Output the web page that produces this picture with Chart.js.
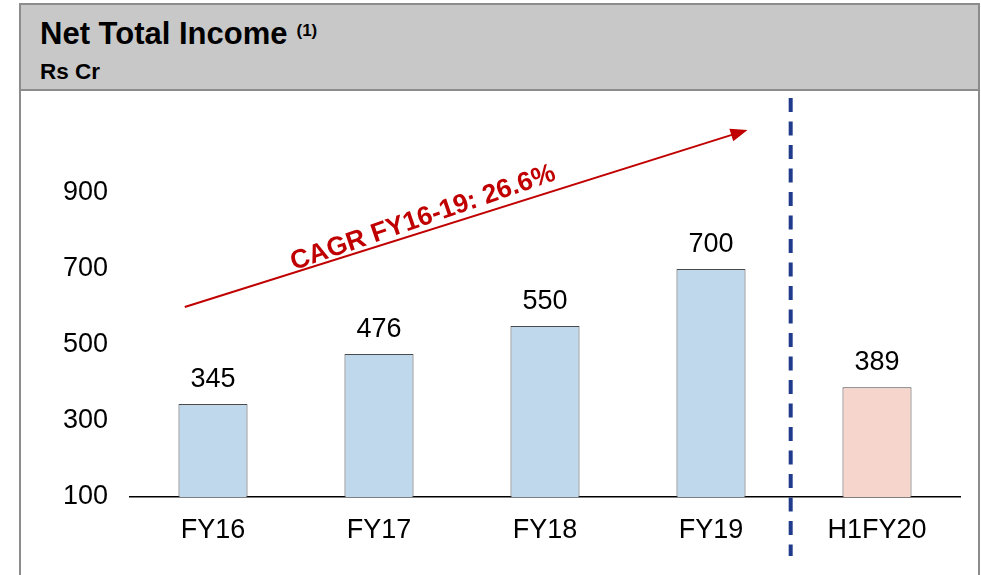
<!DOCTYPE html>
<html>
<head>
<meta charset="utf-8">
<script src="https://cdn.jsdelivr.net/npm/chart.js@4.4.1/dist/chart.umd.min.js"></script>
<style>
body { margin:0; width:981px; height:575px; background:#fff; position:relative; overflow:hidden; font-family:'Liberation Sans', Arial, sans-serif; }
#panel { position:absolute; left:19px; top:3px; width:961px; height:574px; box-sizing:border-box; border:2px solid #8c8c8c; border-bottom-color:#dcdcdc; }
#head { position:absolute; left:21px; top:5px; width:957px; height:84px; background:#c8c8c8; border-bottom:2px solid #8c8c8c; }
#title { position:absolute; left:40px; top:18px; font-size:31px; line-height:31px; font-weight:bold; color:#000; white-space:nowrap; }
#title sup { font-size:17px; vertical-align:top; position:relative; top:-3px; margin-left:9px; }
#unit { position:absolute; left:40px; top:61px; font-size:22.5px; line-height:21px; font-weight:bold; color:#000; }
#chart_income { position:absolute; left:21px; top:91px; }
</style>
</head>
<body>
<div id="panel"></div>
<div id="head"></div>
<div id="title">Net Total Income<sup>(1)</sup></div>
<div id="unit">Rs Cr</div>
<canvas id="chart_income" width="956" height="483"></canvas>
<script>
var categories = ['FY16', 'FY17', 'FY18', 'FY19', 'H1FY20'];
var income = [345, 476, 550, 700, 389];
var barColors = ['#bfd8eb', '#bfd8eb', '#bfd8eb', '#bfd8eb', '#f6d5cc'];
var yTicks = [100, 300, 500, 700, 900];
var cagrText = 'CAGR FY16-19: 26.6%';

var fontFamily = "'Liberation Sans', Arial, sans-serif";

// value labels on top of bars
var barLabels = {
    id: 'barLabels',
    afterDatasetsDraw: function(chart) {
        var ctx = chart.ctx;
        var meta = chart.getDatasetMeta(0);
        ctx.save();
        ctx.font = '27px ' + fontFamily;
        ctx.fillStyle = '#000';
        ctx.textAlign = 'center';
        ctx.textBaseline = 'alphabetic';
        meta.data.forEach(function(bar, i) {
            ctx.fillText(income[i], bar.x, bar.y - 17);
        });
        ctx.restore();
    }
};

// CAGR arrow + dashed separator before the half year bar
var overlay = {
    id: 'overlay',
    afterDraw: function(chart) {
        var ctx = chart.ctx;
        var x = chart.scales.x, y = chart.scales.y;

        var sepX = x.getPixelForValue(3.48);
        ctx.save();
        ctx.strokeStyle = '#203a8c';
        ctx.lineWidth = 4;
        ctx.setLineDash([14, 9.5]);
        ctx.beginPath();
        ctx.moveTo(sepX, 7);
        ctx.lineTo(sepX, chart.chartArea.bottom + 59);
        ctx.stroke();
        ctx.restore();

        var x0 = x.getPixelForValue(-0.17), y0 = y.getPixelForValue(600);
        var x1 = x.getPixelForValue(3.22), y1 = y.getPixelForValue(1066);
        var ang = Math.atan2(y1 - y0, x1 - x0);
        ctx.save();
        ctx.strokeStyle = '#c00000';
        ctx.fillStyle = '#c00000';
        ctx.lineWidth = 2;
        ctx.beginPath();
        ctx.moveTo(x0, y0);
        ctx.lineTo(x1 - 14 * Math.cos(ang), y1 - 14 * Math.sin(ang));
        ctx.stroke();
        ctx.translate(x1, y1);
        ctx.rotate(ang);
        ctx.beginPath();
        ctx.moveTo(0, 0);
        ctx.lineTo(-17, -6.5);
        ctx.lineTo(-17, 6.5);
        ctx.closePath();
        ctx.fill();
        ctx.restore();

        var tx = x.getPixelForValue(1.265), ty = y.getPixelForValue(834);
        ctx.save();
        ctx.translate(tx, ty);
        ctx.rotate(-19 * Math.PI / 180);
        ctx.font = 'bold 26.5px ' + fontFamily;
        ctx.fillStyle = '#c00000';
        ctx.textAlign = 'center';
        ctx.textBaseline = 'middle';
        ctx.fillText(cagrText, 0, 0);
        ctx.restore();
    }
};

var ctx = document.getElementById('chart_income');

var chartBar = new Chart(ctx, {
    type: 'bar',
    data: {
        labels: categories,
        datasets: [{
            data: income,
            backgroundColor: barColors,
            borderColor: '#4a4a4a',
            borderWidth: 1,
            borderSkipped: 'bottom',
            barPercentage: 0.416,
            categoryPercentage: 1
        }]
    },
    options: {
        responsive: false,
        animation: false,
        devicePixelRatio: 1,
        layout: { padding: { top: 26, right: 17, left: 0, bottom: 0 } },
        plugins: {
            legend: { display: false },
            tooltip: { enabled: false }
        },
        scales: {
            x: {
                grid: { display: false, drawTicks: false },
                border: { display: true, color: '#000', width: 1.5 },
                ticks: {
                    color: '#000',
                    padding: 17,
                    font: { family: fontFamily, size: 27 }
                },
                afterFit: function(scale) {
                    scale.height = 77;
                    scale.paddingLeft = 0;
                    scale.paddingRight = 0;
                }
            },
            y: {
                min: 100,
                max: 1100,
                grid: { display: false, drawTicks: false },
                border: { display: false },
                afterBuildTicks: function(scale) {
                    scale.ticks = yTicks.map(function(v) { return { value: v }; });
                },
                ticks: {
                    color: '#000',
                    padding: 22,
                    font: { family: fontFamily, size: 27 }
                },
                afterFit: function(scale) {
                    scale.width = 109;
                    scale.paddingTop = 0;
                    scale.paddingBottom = 0;
                }
            }
        }
    },
    plugins: [barLabels, overlay]
});
</script>
</body>
</html>
